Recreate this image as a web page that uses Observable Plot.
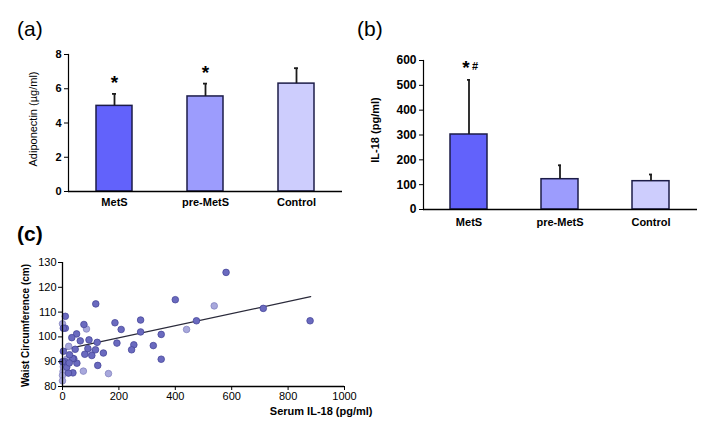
<!DOCTYPE html>
<html>
<head>
<meta charset="utf-8">
<script src="https://cdn.jsdelivr.net/npm/d3@7"></script>
<script src="https://cdn.jsdelivr.net/npm/@observablehq/plot@0.6"></script>
<style>
  html, body { margin: 0; padding: 0; background: #fff; }
  #wrap { position: relative; width: 712px; height: 434px; overflow: hidden; background: #fff; font-family: "Liberation Sans", Arial, sans-serif; }
  #wrap > svg, #wrap > div { position: absolute; }
  .panel { font: 21px/21px "Liberation Sans", Arial, sans-serif; color: #000; }
</style>
</head>
<body>
<div id="wrap">
  <div class="panel" style="left:17px; top:18px;">(a)</div>
  <div class="panel" style="left:357px; top:18px;">(b)</div>
  <div class="panel" style="left:17px; top:223px; font-weight:bold;">(c)</div>
</div>
<script>
// ---- data ----
const groups = ["MetS", "pre-MetS", "Control"];
const groupColors = ["#6262fb", "#9c9cfd", "#cdcdfd"];

const adiponectinMean = [5.0, 5.55, 6.3];
const adiponectinSD = [0.7, 0.75, 0.9];
const adiponectinMarks = ["*", "*", ""];
const adiponectinTicks = [0, 2, 4, 6, 8];

const il18Mean = [302, 122, 114];
const il18SD = [220, 56, 27];
const il18Ticks = [0, 100, 200, 300, 400, 500, 600];

// scatter: Serum IL-18 (pg/ml) vs Waist circumference (cm)
const darkX = [580, 400, 712, 878, 475, 350, 350, 322, 277, 277, 253, 245, 208, 186, 193, 145, 118, 123, 117, 125, 104, 94, 90, 76, 79, 63, 50, 51, 45, 40, 36, 37, 33, 25, 21, 15, 10, 10, 3, 9, 3, 0, 24];
const darkY = [126, 115, 111.5, 106.5, 106.5, 101, 91, 96.5, 106.8, 102, 96.8, 94.8, 103, 105.7, 97.5, 93.5, 113.3, 97.8, 94.8, 88.5, 92.5, 98.8, 95.3, 105, 93, 98.4, 101.2, 89.4, 95, 91.2, 91.3, 85.5, 99.7, 92.8, 85.4, 87.8, 108.3, 103.5, 103.5, 90, 94.2, 90, 89.5];
const lightX = [538, 440, 163, 85, 98, 74, 22, 15, 0, 2, 0, 0, 3];
const lightY = [112.5, 103, 85.2, 103.2, 93.8, 86.2, 96.2, 91, 105.3, 86, 84.5, 82.3, 88];
const fitX = [0, 880];
const fitY = [94.8, 116.2];
const scatterXTicks = [0, 200, 400, 600, 800, 1000];
const scatterYTicks = [80, 90, 100, 110, 120, 130];

const labelA = "Adiponectin (\u00b5g/ml)";
const labelB = "IL-18 (pg/ml)";
const labelCy = "Waist Circumference (cm)";
const labelCx = "Serum IL-18 (pg/ml)";

// ---- helpers ----
const FONT = '"Liberation Sans", Arial, sans-serif';
const barRows = (means, sds, marks) => groups.map((g, i) => ({
  group: g, mean: means[i], top: means[i] + sds[i], color: groupColors[i], mark: marks ? marks[i] : ""
}));
const rowsA = barRows(adiponectinMean, adiponectinSD, adiponectinMarks);
const rowsB = barRows(il18Mean, il18SD, null);
const darkPts = darkX.map((x, i) => ({x, y: darkY[i]}));
const lightPts = lightX.map((x, i) => ({x, y: lightY[i]}));
const fitPts = fitX.map((x, i) => ({x, y: fitY[i]}));

const wrap = document.getElementById("wrap");
function place(svg, left, top) {
  svg.style.left = left + "px";
  svg.style.top = top + "px";
  wrap.appendChild(svg);
}

// ---- (a) ----
const plotA = Plot.plot({
  width: 350, height: 215,
  marginLeft: 68, marginRight: 8, marginTop: 54, marginBottom: 24,
  style: {fontFamily: FONT, fontSize: "11px", color: "#000", background: "transparent", overflow: "visible"},
  x: {domain: groups, paddingInner: 0.6, paddingOuter: 0.3, label: null},
  y: {domain: [0, 8], label: null},
  marks: [
    Plot.barY(rowsA, {x: "group", y: "mean", fill: "color", stroke: "#1c1c48", strokeWidth: 1.5}),
    Plot.ruleX(rowsA, {x: "group", y1: "mean", y2: "top", stroke: "#1c1c1c", strokeWidth: 1.8}),
    Plot.tickY(rowsA, {x: "group", y: "top", stroke: "#1c1c1c", strokeWidth: 1.8, insetLeft: 16, insetRight: 16}),
    Plot.text(rowsA, {x: "group", y: "top", text: "mark", fontSize: 19, fontWeight: "bold", dy: -11}),
    Plot.axisY({ticks: adiponectinTicks, tickSize: 4, tickPadding: 3, fontWeight: "bold", label: null, stroke: "#000"}),
    Plot.axisX({tickSize: 0, tickPadding: 7, fontWeight: "bold", label: null}),
    Plot.frame({anchor: "left", stroke: "#000", strokeWidth: 1.2}),
    Plot.ruleY([0], {stroke: "#000", strokeWidth: 1.5}),
    Plot.text([labelA], {frameAnchor: "left", textAnchor: "middle", rotate: -90, dx: -35, dy: -4, fontSize: 11})
  ]
});
place(plotA, 0, 0);

// ---- (b) ----
const plotB = Plot.plot({
  width: 362, height: 230,
  marginLeft: 73, marginRight: 15, marginTop: 60, marginBottom: 21,
  style: {fontFamily: FONT, fontSize: "11px", color: "#000", background: "transparent", overflow: "visible"},
  x: {domain: groups, paddingInner: 0.59, paddingOuter: 0.3, label: null},
  y: {domain: [0, 600], label: null},
  marks: [
    Plot.barY(rowsB, {x: "group", y: "mean", fill: "color", stroke: "#1c1c48", strokeWidth: 1.5}),
    Plot.ruleX(rowsB, {x: "group", y1: "mean", y2: "top", stroke: "#1c1c1c", strokeWidth: 1.8}),
    Plot.tickY(rowsB, {x: "group", y: "top", stroke: "#1c1c1c", strokeWidth: 1.8, insetLeft: 17, insetRight: 17}),
    Plot.text(rowsB.slice(0, 1), {x: "group", y: "top", text: () => "*", fontSize: 19, fontWeight: "bold", dx: -3, dy: -12}),
    Plot.text(rowsB.slice(0, 1), {x: "group", y: "top", text: () => "#", fontSize: 11, fontWeight: "bold", dx: 6, dy: -13}),
    Plot.axisY({ticks: il18Ticks, tickSize: 4, tickPadding: 3, fontWeight: "bold", fontSize: 12, label: null}),
    Plot.axisX({tickSize: 0, tickPadding: 9, fontWeight: "bold", label: null}),
    Plot.frame({anchor: "left", stroke: "#000", strokeWidth: 1.2}),
    Plot.ruleY([0], {stroke: "#000", strokeWidth: 1.5}),
    Plot.text([labelB], {frameAnchor: "left", textAnchor: "middle", rotate: -90, dx: -48, dy: -5, fontSize: 11, fontWeight: "bold"})
  ]
});
place(plotB, 350, 0);

// ---- (c) ----
const plotC = Plot.plot({
  width: 380, height: 214,
  marginLeft: 62, marginRight: 36, marginTop: 42, marginBottom: 48,
  style: {fontFamily: FONT, fontSize: "11px", color: "#000", background: "transparent", overflow: "visible"},
  x: {domain: [0, 1000], label: null},
  y: {domain: [80, 130], label: null},
  marks: [
    Plot.line(fitPts, {x: "x", y: "y", stroke: "#2a2a3a", strokeWidth: 1.3}),
    Plot.dot(lightPts, {x: "x", y: "y", r: 3.3, fill: "#a8a8dc", stroke: "#8484c0", strokeWidth: 0.8}),
    Plot.dot(darkPts, {x: "x", y: "y", r: 3.3, fill: "#6a6abf", stroke: "#48489a", strokeWidth: 0.8}),
    Plot.axisY({ticks: scatterYTicks, tickSize: 4, tickPadding: 2, tickFormat: d => String(d), label: null}),
    Plot.axisX({ticks: scatterXTicks, tickSize: 4, tickPadding: 2, tickFormat: d => String(d), label: null}),
    Plot.ruleX([0], {stroke: "#000", strokeWidth: 1.3}),
    Plot.ruleY([80], {stroke: "#000", strokeWidth: 1.3}),
    Plot.text([labelCy], {frameAnchor: "left", textAnchor: "middle", rotate: -90, dx: -37, dy: 1, fontSize: 10, fontWeight: "bold"}),
    Plot.text([labelCx], {frameAnchor: "bottom-right", textAnchor: "end", dx: 28, dy: 28, fontSize: 11, fontWeight: "bold"})
  ]
});
place(plotC, 0, 220);
</script>
</body>
</html>
